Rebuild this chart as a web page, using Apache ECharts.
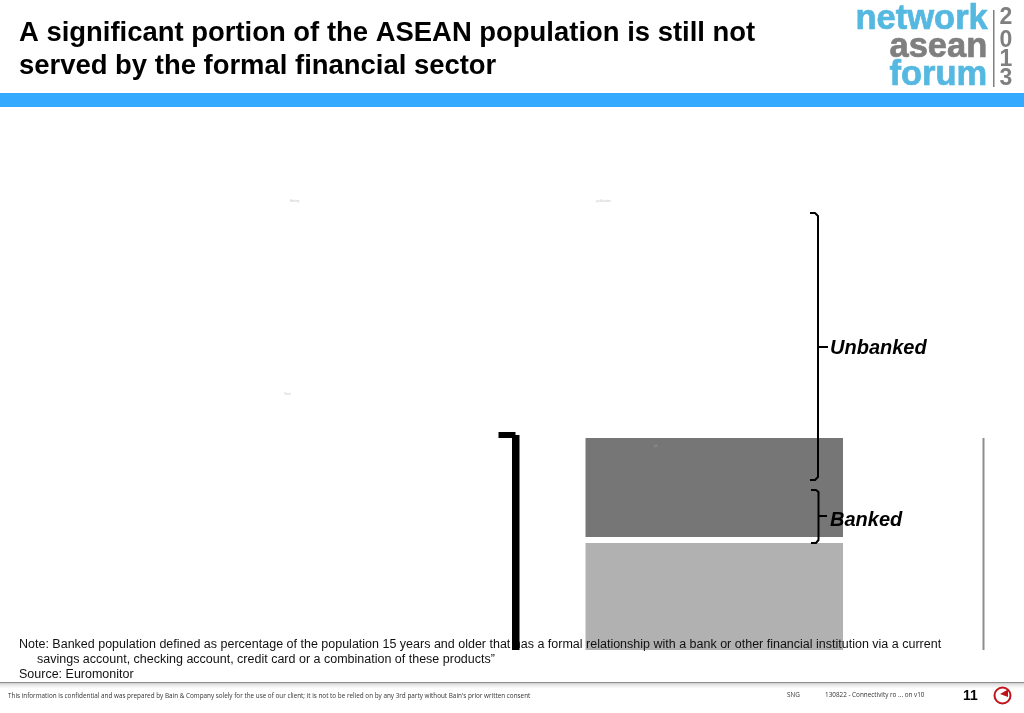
<!DOCTYPE html>
<html><head><meta charset="utf-8">
<style>html,body{margin:0;padding:0;background:#fff}#c{width:1024px;height:713px}</style>
<script src="https://cdn.jsdelivr.net/npm/echarts@6/dist/echarts.min.js"></script>
</head><body><div id="c"></div>
<script>
const titleLines = ['A significant portion of the ASEAN population is still not','served by the formal financial sector'];
const noteLines = ['Note: Banked population defined as percentage of the population 15 years and older that has a formal relationship with a bank or other financial institution via a current','savings account, checking account, credit card or a combination of these products”','Source: Euromonitor'];
const footerText = 'This information is confidential and was prepared by Bain & Company solely for the use of our client; it is not to be relied on by any 3rd party without Bain\'s prior written consent';
const categories = ['ASEAN'];
const lowerValues = [107];
const gapValues = [6];
const upperValues = [99];
const blackValues = [215];
const greyValues = [212];
const axisMax = 450;

const F = '"Liberation Sans",Arial,sans-serif';
const chart = echarts.init(document.getElementById('c'), null, {renderer:'canvas'});
const txt = (x,y,text,font,fill,extra) => Object.assign({type:'text',x,y,silent:true,style:Object.assign({text,font,fill,textVerticalAlign:'middle'},extra||{})},{z:5});
const heavy = c => ({stroke:c,lineWidth:0.7});
const grids = [
  {left:585.5,width:257.5,top:200,height:450},
  {left:512,width:7.5,top:200,height:450},
  {left:982.5,width:2,top:200,height:450}
];
const xAxes = grids.map((g,i)=>({type:'category',gridIndex:i,data:categories,show:false}));
const yAxes = grids.map((g,i)=>({type:'value',gridIndex:i,min:0,max:axisMax,show:false}));
const brace = (pts,w) => ({type:'polyline',silent:true,z:6,shape:{points:pts,smooth:0},style:{stroke:'#000',lineWidth:w||2,fill:null,lineJoin:'round'}});
chart.setOption({
  animation:false,
  backgroundColor:'#fff',
  grid:grids,xAxis:xAxes,yAxis:yAxes,
  series:[
    {type:'bar',name:'Banked base',stack:'s',xAxisIndex:0,yAxisIndex:0,data:lowerValues,barWidth:'100%',itemStyle:{color:'#b1b1b1'},z:3},
    {type:'bar',name:'gap',stack:'s',xAxisIndex:0,yAxisIndex:0,data:gapValues,barWidth:'100%',itemStyle:{color:'rgba(0,0,0,0)'},z:3},
    {type:'bar',name:'Upper',stack:'s',xAxisIndex:0,yAxisIndex:0,data:upperValues,barWidth:'100%',itemStyle:{color:'#767676'},z:3},
    {type:'bar',name:'Black',xAxisIndex:1,yAxisIndex:1,data:blackValues,barWidth:'100%',itemStyle:{color:'#000'},z:20},
    {type:'bar',name:'Grey',xAxisIndex:2,yAxisIndex:2,data:greyValues,barWidth:'100%',itemStyle:{color:'#8c8c8c'},z:3}
  ],
  graphic:{elements:[
    {type:'rect',silent:true,z:1,shape:{x:0,y:93,width:1024,height:14},style:{fill:'#33a9ff'}},
    txt(19,33.5,titleLines[0],'bold 27.45px '+F,'#000'),
    txt(19,66,titleLines[1],'bold 27.45px '+F,'#000'),
    // logo
    txt(855.5,19.5,'network','bold 34.5px '+F,'#55b8e0',heavy('#55b8e0')),
    txt(889.5,47,'asean','bold 34.5px '+F,'#7f7f7f',heavy('#7f7f7f')),
    txt(889.5,75.5,'forum','bold 34.5px '+F,'#55b8e0',heavy('#55b8e0')),
    {type:'rect',silent:true,shape:{x:993,y:10,width:1.5,height:77},style:{fill:'#808080'}},
    txt(999.5,18,'2','bold 23px '+F,'#7f7f7f'),
    txt(999.5,41,'0','bold 23px '+F,'#7f7f7f'),
    txt(999.5,60,'1','bold 23px '+F,'#7f7f7f'),
    txt(999.5,79,'3','bold 23px '+F,'#7f7f7f'),
    // tiny faint labels
    txt(290,201,'History','3px '+F,'#c4c4c4'),
    txt(596,201,'justification','3px '+F,'#c4c4c4'),
    txt(284,394,'Total','3px '+F,'#c4c4c4'),
    txt(654,446,'ph','3px '+F,'#a0a0a0'),
    // black bracket cap
    {type:'rect',silent:true,z:20,shape:{x:498.5,y:432,width:17,height:6},style:{fill:'#000'}},
    // braces
    brace([[810,213],[815,213],[818,216],[818,477],[815,480],[810,480]]),
    brace([[811,490],[816,490],[818.5,492],[818.5,540],[816,543],[811,543]]),
    {type:'line',silent:true,z:6,shape:{x1:818,y1:347,x2:828,y2:347},style:{stroke:'#000',lineWidth:2}},
    {type:'line',silent:true,z:6,shape:{x1:819,y1:516,x2:827,y2:516},style:{stroke:'#000',lineWidth:2}},
    txt(830,348,'Unbanked','italic bold 20px '+F,'#000'),
    txt(830,520,'Banked','italic bold 20px '+F,'#000'),
    // notes
    txt(19,645,noteLines[0],'12.5px '+F,'#111'),
    txt(37,660,noteLines[1],'12.5px '+F,'#111'),
    txt(19,675,noteLines[2],'12.5px '+F,'#111'),
    // footer
    {type:'rect',silent:true,shape:{x:0,y:682,width:1024,height:1.5},style:{fill:'#8f8f8f'}},
    {type:'rect',silent:true,shape:{x:0,y:683.5,width:1024,height:5},style:{fill:new echarts.graphic.LinearGradient(0,0,0,1,[{offset:0,color:'#dcdcdc'},{offset:1,color:'#ffffff'}])}},
    txt(8,696,footerText,'6.35px "Open Sans",sans-serif','#333'),
    txt(787,695,'SNG','6.35px "Open Sans",sans-serif','#333'),
    txt(825,695,'130822 - Connectivity ro ... on v10','6.35px "Open Sans",sans-serif','#333'),
    txt(963,696,'11','bold 14px '+F,'#000'),
    {type:'circle',silent:true,shape:{cx:1002.5,cy:695.5,r:8},style:{fill:'#fff',stroke:'#c1121c',lineWidth:2}},
    {type:'polygon',silent:true,shape:{points:[[1000,694],[1008,689.5],[1008,697]]},style:{fill:'#c1121c'}}
  ]}
});
</script></body></html>
